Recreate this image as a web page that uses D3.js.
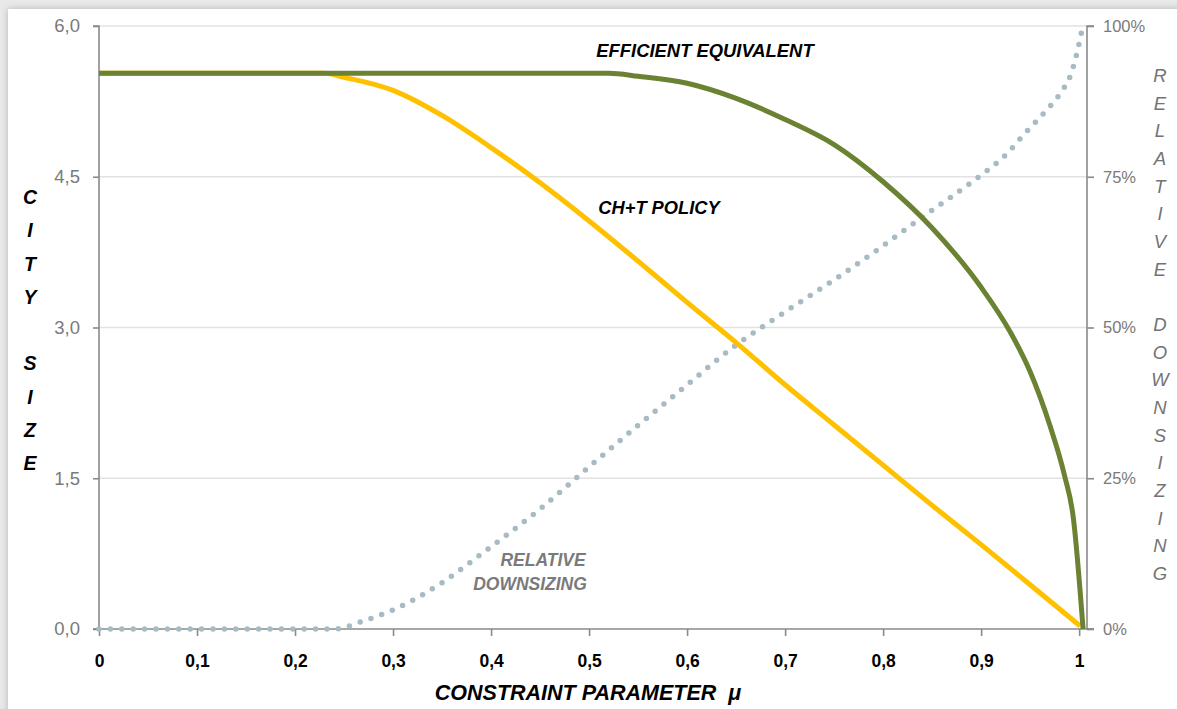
<!DOCTYPE html>
<html>
<head>
<meta charset="utf-8">
<script src="https://cdn.jsdelivr.net/npm/d3@7"></script>
<style>
  html, body { margin: 0; padding: 0; background: #e9e9e9; overflow: hidden; }
  #card {
    position: absolute; left: 8px; top: 9px; width: 1180px; height: 710px;
    background: #fff; box-shadow: 0 0 7px rgba(0,0,0,0.22);
  }
  svg { position: absolute; left: 0; top: 0; }
  text { font-family: "Liberation Sans", Arial, sans-serif; }
</style>
</head>
<body>
<div id="card"></div>
<svg id="chart" width="1177" height="709"></svg>
<script>
// efficient equivalent: [mu, city size]
const efficient = [
  [0, 5.53], [0.1, 5.53], [0.2, 5.53], [0.3, 5.53], [0.4, 5.53], [0.52, 5.53],
  [0.55, 5.50], [0.6, 5.43], [0.65, 5.28], [0.7, 5.07], [0.75, 4.82],
  [0.8, 4.45], [0.85, 3.99], [0.9, 3.40], [0.93, 2.95], [0.95, 2.56],
  [0.97, 2.03], [0.985, 1.53], [0.994, 1.11], [1.004, 0]
];

// CH+T policy: [mu, city size]
const policy = [
  [0, 5.53], [0.1, 5.53], [0.2, 5.53], [0.23, 5.53], [0.25, 5.49], [0.3, 5.36],
  [0.35, 5.11], [0.4, 4.79], [0.45, 4.44], [0.5, 4.06], [0.55, 3.66],
  [0.6, 3.25], [0.65, 2.85], [0.7, 2.43], [0.75, 2.03], [0.8, 1.63],
  [0.85, 1.23], [0.9, 0.84], [0.95, 0.44], [1.001, 0.03]
];

// relative downsizing: [mu, share]
const downsizing = [
  [0, 0], [0.1, 0], [0.2, 0], [0.24, 0], [0.269, 0.013], [0.302, 0.033],
  [0.351, 0.078], [0.389, 0.123], [0.416, 0.156], [0.45, 0.199], [0.5, 0.269],
  [0.6, 0.405], [0.65, 0.471], [0.7, 0.526], [0.75, 0.579], [0.79, 0.624],
  [0.846, 0.69], [0.892, 0.743], [0.928, 0.791], [0.943, 0.819], [0.967, 0.861],
  [0.981, 0.889], [0.992, 0.922], [0.998, 0.957], [1.003, 0.995]
];

const xTicks = [0, 0.1, 0.2, 0.3, 0.4, 0.5, 0.6, 0.7, 0.8, 0.9, 1];
const yTicks = [0, 1.5, 3.0, 4.5, 6.0];
const pTicks = [0, 0.25, 0.5, 0.75, 1];
const leftTitle = "CITY SIZE";
const rightTitle = "RELATIVE DOWNSIZING";

const svg = d3.select("#chart");
const plotLeft = 99, plotRight = 1087, plotTop = 26, plotBottom = 629;

const x = d3.scaleLinear().domain([0, 1.008]).range([plotLeft, plotRight]);
const y = d3.scaleLinear().domain([0, 6]).range([plotBottom, plotTop]);
const yp = d3.scaleLinear().domain([0, 1]).range([plotBottom, plotTop]);

const comma = d => d3.format(".1f")(d).replace(".", ",");
const commaX = d => d === 0 || d === 1 ? String(d) : d3.format(".1f")(d).replace(".", ",");

// gridlines
svg.append("g").selectAll("line").data(yTicks.filter(d => d > 0)).join("line")
  .attr("x1", plotLeft).attr("x2", plotRight)
  .attr("y1", d => y(d)).attr("y2", d => y(d))
  .attr("stroke", "#e2e2e2").attr("stroke-width", 1.3);

// left axis
const gl = svg.append("g").attr("transform", `translate(${plotLeft},0)`)
  .call(d3.axisLeft(y).tickValues(yTicks).tickFormat(comma).tickSize(6).tickPadding(13));
// right axis
const gr = svg.append("g").attr("transform", `translate(${plotRight},0)`)
  .call(d3.axisRight(yp).tickValues(pTicks).tickFormat(d3.format(".0%")).tickSize(7).tickPadding(9));
// bottom axis
const gb = svg.append("g").attr("transform", `translate(0,${plotBottom})`)
  .call(d3.axisBottom(x).tickValues(xTicks).tickFormat(commaX).tickSize(7).tickPadding(19));

[gl, gr, gb].forEach(g => {
  g.select(".domain").attr("stroke", "#8a8a8a").attr("stroke-width", 1.6);
  g.selectAll(".tick line").attr("stroke", "#8a8a8a").attr("stroke-width", 1.6);
});
gl.select(".domain").attr("d", `M-6,${plotBottom}H0V${plotTop}H-6`);
gr.select(".domain").attr("d", `M7,${plotBottom}H0V${plotTop}H7`);
gb.select(".domain").attr("d", `M${plotLeft - 6},0H${plotRight + 7}`);

gl.selectAll(".tick text").attr("fill", "#7a7a7a").attr("font-size", 18.5)
  .attr("font-family", "Liberation Sans, sans-serif");
gr.selectAll(".tick text").attr("fill", "#7a7a7a").attr("font-size", 16.5)
  .attr("font-family", "Liberation Sans, sans-serif");
gb.selectAll(".tick text").attr("fill", "#000").attr("font-size", 17.5)
  .attr("font-weight", "bold").attr("font-family", "Liberation Sans, sans-serif");

// series
const line = d3.line().x(d => x(d[0])).curve(d3.curveMonotoneX);

svg.append("path")
  .attr("d", line.y(d => yp(d[1]))(downsizing))
  .attr("fill", "none").attr("stroke", "#a8bbc3").attr("stroke-width", 5.5)
  .attr("stroke-linecap", "round").attr("stroke-dasharray", "0 11.4");

svg.append("path")
  .attr("d", line.y(d => y(d[1]))(policy))
  .attr("fill", "none").attr("stroke", "#ffc000").attr("stroke-width", 5);

svg.append("path")
  .attr("d", line.y(d => y(d[1]))(efficient))
  .attr("fill", "none").attr("stroke", "#6b8232").attr("stroke-width", 5);

// annotations
const label = (txt, cx, cy, opts) => svg.append("text")
  .attr("x", cx).attr("y", cy).attr("text-anchor", "middle")
  .attr("font-size", opts.size).attr("font-weight", "bold").attr("font-style", "italic")
  .attr("fill", opts.color).text(txt);

label("EFFICIENT EQUIVALENT", 705, 57, { size: 18.4, color: "#000" });
label("CH+T POLICY", 659, 214, { size: 18.3, color: "#000" });
label("RELATIVE", 543, 566, { size: 17.5, color: "#7a7a7a" });
label("DOWNSIZING", 530, 590, { size: 17.5, color: "#7a7a7a" });
label("CONSTRAINT PARAMETER  \u03bc", 588, 700, { size: 21.5, color: "#000" })
  .style("white-space", "pre");

// stacked axis titles
svg.append("g").selectAll("text").data(leftTitle.split("")).join("text")
  .attr("x", 30).attr("y", (d, i) => 204 + i * 33.25)
  .attr("text-anchor", "middle").attr("font-size", 19.5)
  .attr("font-weight", "bold").attr("font-style", "italic").attr("fill", "#000")
  .text(d => d);

svg.append("g").selectAll("text").data(rightTitle.split("")).join("text")
  .attr("x", 1160).attr("y", (d, i) => 82 + i * 27.67)
  .attr("text-anchor", "middle").attr("font-size", 18.5)
  .attr("font-style", "italic").attr("fill", "#737373")
  .text(d => d);
</script>
</body>
</html>
